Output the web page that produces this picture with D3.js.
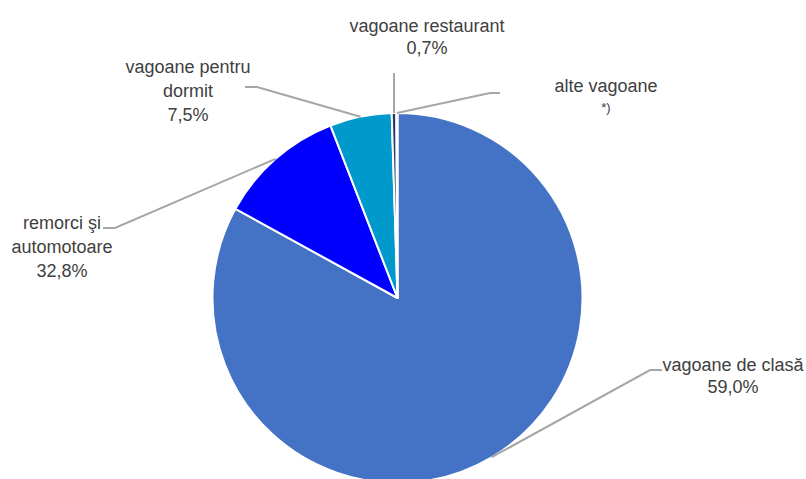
<!DOCTYPE html>
<html>
<head>
<meta charset="utf-8">
<script src="https://cdn.jsdelivr.net/npm/d3@7"></script>
<style>
  body { margin: 0; background: #fff; }
  svg text { font-family: "Liberation Sans", Arial, sans-serif; fill: #404040; }
</style>
</head>
<body>
<div id="chart"></div>
<script>
// categories, in drawing order (clockwise from 12 o'clock)
const categories = ["vagoane de clasă", "remorci şi automotoare", "vagoane pentru dormit", "vagoane restaurant", "alte vagoane"];
// slice sizes as drawn in the picture (share of the circle, %)
const sliceValues = [83.0, 11.1, 5.4, 0.4, 0.1];
// label lines as printed
const labelLines = [
	["vagoane de clasă", "59,0%"],
	["remorci şi", "automotoare", "32,8%"],
	["vagoane pentru", "dormit", "7,5%"],
	["vagoane restaurant", "0,7%"],
	["alte vagoane", "*)"]
];
const colors = ["#4472C4", "#0000FF", "#0099CC", "#1F3864", "#7F7F7F"];

function main() {
	const W = 806, H = 479;
	const cx = 397.5, cy = 298, r = 185;

	// where each label sits and where its leader line bends
	const layout = [
		{x: 733, y: 371, gap: 22, elbow: [650, 370], end: [662, 370]},
		{x: 62, y: 229, gap: 24, elbow: [115, 228], end: [103, 228]},
		{x: 188, y: 73, gap: 24, elbow: [257, 87], end: [245, 87]},
		{x: 427, y: 32, gap: 21.5, elbow: null, end: [394, 73]},
		{x: 606, y: 92, gap: 20, elbow: [490, 93], end: [500, 93]}
	];

	const svg = d3.select("#chart").append("svg")
		.attr("width", W).attr("height", H);

	const g = svg.append("g").attr("transform", "translate(" + cx + "," + cy + ")");

	const pie = d3.pie().sort(null).value(d => d)(sliceValues);
	const arc = d3.arc().innerRadius(0).outerRadius(r);

	g.selectAll("path.slice")
		.data(pie)
		.enter().append("path")
		.attr("class", "slice")
		.attr("d", arc)
		.attr("fill", (d, i) => colors[i])
		.attr("stroke", "#fff")
		.attr("stroke-width", 2)
		.attr("stroke-linejoin", "round");

	// leader lines start on the rim at the middle of each slice
	const line = d3.line();
	svg.selectAll("path.leader")
		.data(pie)
		.enter().append("path")
		.attr("class", "leader")
		.attr("fill", "none")
		.attr("stroke", "#A6A6A6")
		.attr("stroke-width", 2)
		.attr("d", (d, i) => {
			const a = (d.startAngle + d.endAngle) / 2;
			const p0 = [cx + r * Math.sin(a), cy - r * Math.cos(a)];
			const L = layout[i];
			const pts = L.elbow ? [p0, L.elbow, L.end] : [[L.end[0], p0[1]], L.end];
			return line(pts);
		});

	// labels
	const labels = svg.selectAll("g.label")
		.data(labelLines)
		.enter().append("g")
		.attr("class", "label");

	labels.each(function(lines, i) {
		const L = layout[i];
		const t = d3.select(this);
		lines.forEach((s, k) => {
			const small = (s === "*)");
			t.append("text")
				.attr("x", L.x)
				.attr("y", L.y + k * L.gap)
				.attr("text-anchor", "middle")
				.style("font-size", small ? "13px" : "18px")
				.text(s);
		});
	});
}

function whenDocumentLoaded(action) {
	if (document.readyState === "loading") {
		document.addEventListener("DOMContentLoaded", action);
	} else {
		action();
	}
}

whenDocumentLoaded(() => {
	main();
});
</script>
</body>
</html>
